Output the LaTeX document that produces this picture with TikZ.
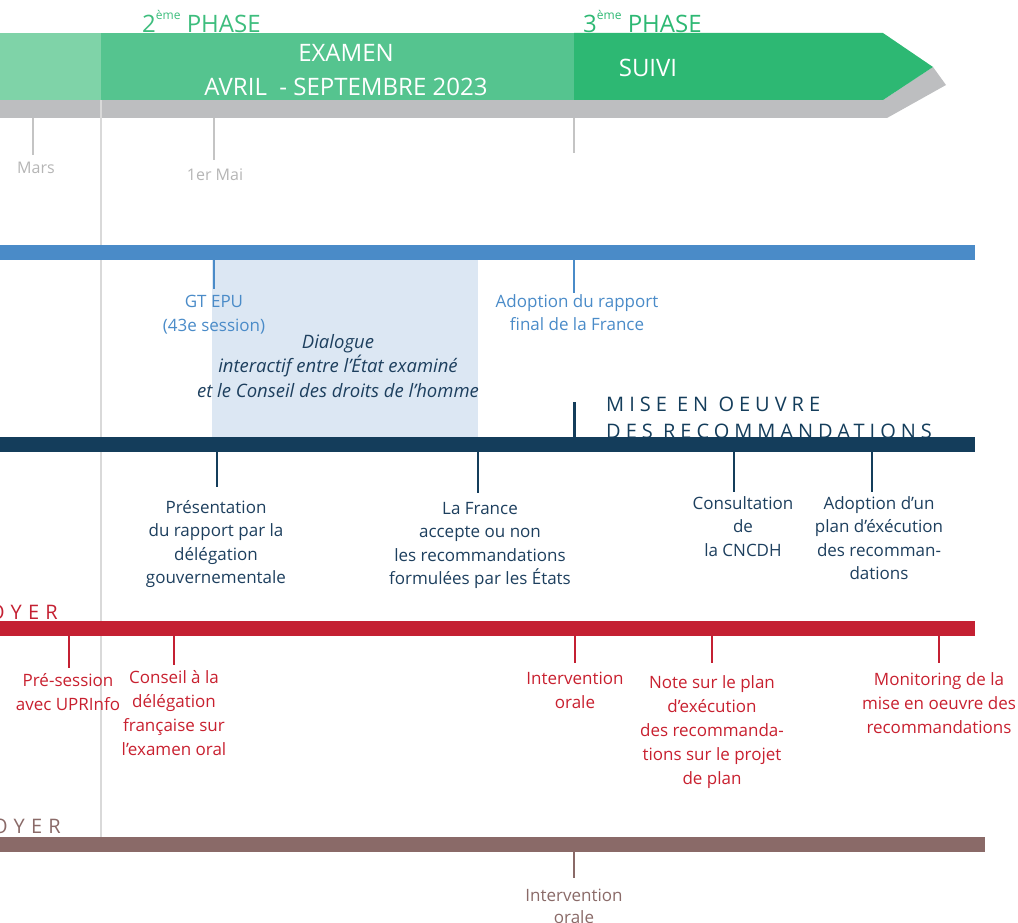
\documentclass[tikz,border=0pt]{standalone}
\usepackage{fontspec}
\setmainfont{Open Sans}
\definecolor{glight}{HTML}{7FD3A8}
\definecolor{gmid}{HTML}{55C48F}
\definecolor{gdark}{HTML}{2DB873}
\definecolor{gtxt}{HTML}{3DBD7D}
\definecolor{shadowc}{HTML}{BDBEC0}
\definecolor{blueb}{HTML}{4A8BC8}
\definecolor{bluebox}{HTML}{DCE7F3}
\definecolor{navy}{HTML}{143D5B}
\definecolor{navytxt}{HTML}{1D3F5E}
\definecolor{redb}{HTML}{C42032}
\definecolor{redtxt}{HTML}{C8202F}
\definecolor{brownb}{HTML}{8A6A68}
\definecolor{greytxt}{HTML}{B5B5B5}
\definecolor{vlinec}{HTML}{D9D9D9}
\begin{document}
\begin{tikzpicture}[x=1pt,y=-1pt,
  lbl/.style={anchor=north,inner sep=0pt,align=center,font=\fontsize{17}{23.5}\selectfont},
  tk/.style={line width=1.5pt},
  big/.style={inner sep=0pt,text=white,align=center,font=\fontsize{24}{34}\selectfont},
  phase/.style={anchor=base west,inner sep=0pt,text=gtxt,font=\fontsize{24}{30}\selectfont},
  spaced/.style={inner sep=0pt,font=\fontsize{20}{27}\selectfont\addfontfeature{LetterSpace=25}},
  wide/.style={inner sep=0pt,font=\fontsize{20}{27}\selectfont\addfontfeature{LetterSpace=31}}]
\useasboundingbox (0,0) rectangle (1018,923);
\clip (0,0) rectangle (1018,923);
% ---------- phase arrow ----------
\node[phase] (ph2) at (142,33) {2\raisebox{0.55em}{\fontsize{12}{12}\selectfont ème} PHASE};
\node[phase,text=gdark] (ph3) at (583,33) {3\raisebox{0.55em}{\fontsize{12}{12}\selectfont ème} PHASE};
\fill[shadowc] (0,100) -- (883,100) -- (933,67) -- (946,85) -- (887,118) -- (0,118) -- cycle;
\fill[glight] (0,33) rectangle (101,100);
\fill[gmid] (101,33) rectangle (574,100);
\fill[gdark] (574,33) -- (883,33) -- (933,67) -- (883,100) -- (574,100) -- cycle;
\node[big] (exam) at (346,70) {EXAMEN\\AVRIL\ \ - SEPTEMBRE 2023};
\node[big] (suivi) at (648,68) {SUIVI};
% ---------- grey ticks ----------
\draw[vlinec,line width=2pt] (101,100) -- (101,837);
\coordinate (m1) at (33,118); \coordinate (m2) at (33,155);
\coordinate (a1) at (214,118); \coordinate (a2) at (214,160);
\coordinate (s1) at (574,118); \coordinate (s2) at (574,153);
\draw[greytxt!80,line width=1.3pt] (m1) -- (m2);
\draw[greytxt!80,line width=1.3pt] (a1) -- (a2);
\draw[greytxt!80,line width=1.3pt] (s1) -- (s2);
\node[lbl,text=greytxt,font=\fontsize{16}{20}\selectfont] (mars) at (36,162) {Mars};
\node[lbl,text=greytxt,font=\fontsize{16}{20}\selectfont] (mai) at (215,169) {1er Mai};
% ---------- blue row ----------
\fill[bluebox] (212,260) rectangle (478,437);
\fill[blueb] (0,245) rectangle (975,260);
\coordinate (g1) at (214,260); \coordinate (g2) at (214,289);
\coordinate (r1) at (574,260); \coordinate (r2) at (574,293);
\draw[tk,blueb] (g1) -- (g2);
\draw[tk,blueb] (r1) -- (r2);
\node[lbl,text=blueb] (gt) at (214,295) {GT EPU\\(43e session)};
\node[lbl,text=blueb] (adop) at (577,294) {Adoption du rapport\\final de la France};
\node[lbl,text=navytxt,font=\fontsize{18.5}{24.5}\selectfont\itshape] (dial) at (338,334)
  {Dialogue\\interactif entre l’État examiné\\et le Conseil des droits de l’homme};
% ---------- navy row ----------
\node[spaced,anchor=base west,align=left,text=navy] (mise) at (606,438) {MISE EN OEUVRE\\DES RECOMMANDATIONS};
\coordinate (q1) at (574,402); \coordinate (q2) at (574,437);
\draw[navy,line width=3pt] (q1) -- (q2);
\fill[navy] (0,437) rectangle (975,452);
\coordinate (n1a) at (217,452); \coordinate (n1b) at (217,487);
\coordinate (n2a) at (478,452); \coordinate (n2b) at (478,493);
\coordinate (n3a) at (734,452); \coordinate (n3b) at (734,492);
\coordinate (n4a) at (872,452); \coordinate (n4b) at (872,492);
\draw[tk,navy] (n1a) -- (n1b);
\draw[tk,navy] (n2a) -- (n2b);
\draw[tk,navy] (n3a) -- (n3b);
\draw[tk,navy] (n4a) -- (n4b);
\node[lbl,text=navytxt] (pres) at (216,500) {Présentation\\du rapport par la\\délégation\\gouvernementale};
\node[lbl,text=navytxt] (fr) at (480,502) {La France\\accepte ou non\\les recommandations\\formulées par les États};
\node[lbl,text=navytxt] (cons) at (743,496) {Consultation\\de\\la CNCDH};
\node[lbl,text=navytxt] (plan) at (879,496) {Adoption d’un\\plan d’éxécution\\des recomman-\\dations};
% ---------- red row ----------
\node[wide,anchor=base east,text=redb] (plr) at (58,619) {PLAIDOYER};
\fill[redb] (0,621) rectangle (975,636);
\coordinate (e1a) at (69,636); \coordinate (e1b) at (69,668);
\coordinate (e2a) at (174,636); \coordinate (e2b) at (174,665);
\coordinate (e3a) at (575,636); \coordinate (e3b) at (575,663);
\coordinate (e4a) at (712,636); \coordinate (e4b) at (712,663);
\coordinate (e5a) at (939,636); \coordinate (e5b) at (939,663);
\draw[tk,redb] (e1a) -- (e1b);
\draw[tk,redb] (e2a) -- (e2b);
\draw[tk,redb] (e3a) -- (e3b);
\draw[tk,redb] (e4a) -- (e4b);
\draw[tk,redb] (e5a) -- (e5b);
\node[lbl,text=redtxt,font=\fontsize{17}{24}\selectfont] (pre) at (68,673) {Pré-session\\avec UPRInfo};
\node[lbl,text=redtxt,font=\fontsize{17}{24}\selectfont] (cdl) at (174,670) {Conseil à la\\délégation\\française sur\\l’examen oral};
\node[lbl,text=redtxt,font=\fontsize{17}{24}\selectfont] (int) at (575,672) {Intervention\\orale};
\node[lbl,text=redtxt,font=\fontsize{17}{24}\selectfont] (note) at (712,675) {Note sur le plan\\d’exécution\\des recommanda-\\tions sur le projet\\de plan};
\node[lbl,text=redtxt,font=\fontsize{17}{24}\selectfont] (mon) at (939,672) {Monitoring de la\\mise en oeuvre des\\recommandations};
% ---------- brown row ----------
\node[wide,anchor=base east,text=brownb] (plb) at (61,833) {PLAIDOYER};
\fill[brownb] (0,837) rectangle (985,852);
\coordinate (b1a) at (574,852); \coordinate (b1b) at (574,878);
\draw[tk,brownb] (b1a) -- (b1b);
\node[lbl,text=brownb,font=\fontsize{17}{22}\selectfont] (intb) at (574,889) {Intervention\\orale};
\end{tikzpicture}
\end{document}
